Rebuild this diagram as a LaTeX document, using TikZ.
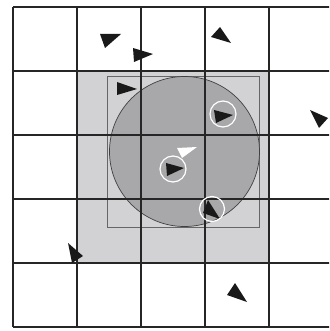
\documentclass[tikz,border=0pt]{standalone}
\begin{document}
\begin{tikzpicture}[x=1pt,y=-1pt,
  gridline/.style={draw=black!85,line width=1.3pt},
  agent/.style={fill=black!90},
  halo/.style={draw=white,line width=1.2pt},
]
\useasboundingbox (0,0) rectangle (329,331);
\clip (0,0) rectangle (329,331);
\fill[white] (0,0) rectangle (329,331);
% light grey neighbourhood
\fill[fill={rgb,255:red,210;green,210;blue,212}] (77,71) rectangle (269,263);
% inner rectangle
\draw[draw=black!60,line width=0.8pt] (107.5,76) rectangle (259,227);
% sensing circle
\draw[fill={rgb,255:red,168;green,168;blue,170},draw=black!75,line width=0.7pt] (184.5,151.5) circle (75);
% grid
\foreach \i in {0,...,5} {
  \draw[gridline] (13+64*\i,7) -- (13+64*\i,327);
  \draw[gridline] (13,7+64*\i) -- (340,7+64*\i);
}
% agents
\fill[agent] (100,34) -- (121,34) -- (105,48) -- cycle;
\fill[agent] (133,48) -- (153,54) -- (134,62) -- cycle;
\fill[agent] (220,27) -- (231,43) -- (211,37) -- cycle;
\fill[agent] (117,82) -- (137,89) -- (117,95) -- cycle;
\fill[agent] (214,110) -- (233,115) -- (216,123) -- cycle;
\fill[agent] (310,110) -- (328,118) -- (319,128) -- cycle;
\fill[white] (177,148) -- (197,147) -- (182,158) -- cycle;
\fill[agent] (166,163) -- (184,168) -- (167,176) -- cycle;
\fill[agent] (208,200) -- (220,219) -- (203,213) -- cycle;
\fill[agent] (68,243) -- (83,256) -- (72,263) -- cycle;
\fill[agent] (235,283) -- (247,302) -- (227,295) -- cycle;
% highlighted neighbours
\draw[halo] (223,114) circle (13);
\draw[halo] (173,169) circle (13);
\draw[halo] (212,209) circle (12.5);
\end{tikzpicture}
\end{document}
